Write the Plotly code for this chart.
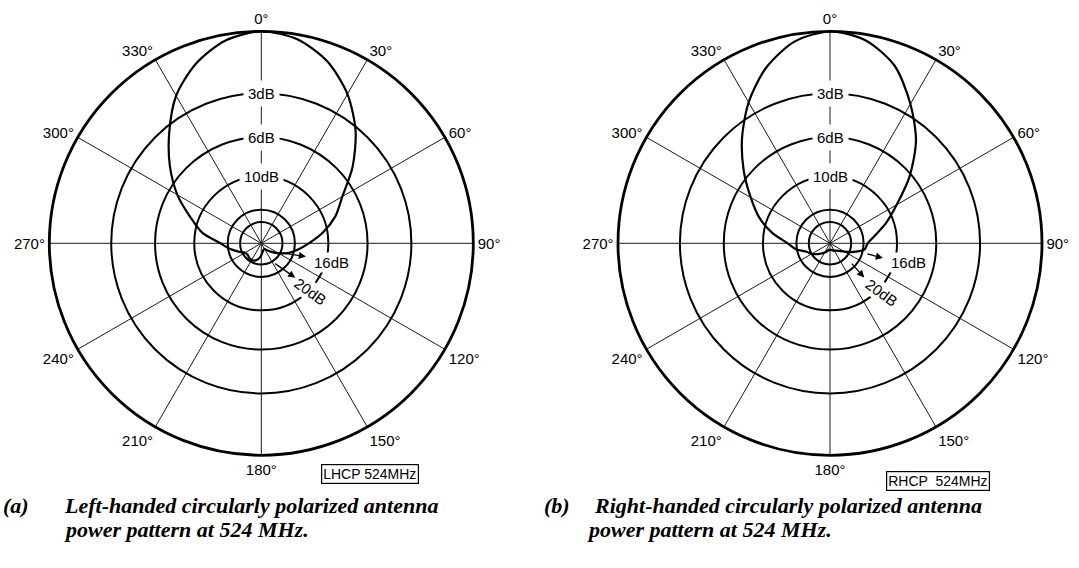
import numpy as np
import plotly.graph_objects as go

W, H = 1079, 568

# ---------------- data ----------------
angles = list(range(0, 360, 10))  # degrees, clockwise from top
# relative power level in dB (0 dB = maximum)
lhcp_db = [0, -0.2, -0.8, -1.8, -3.2, -5.0, -7.1, -8.6, -10.6, -13.0,
           -15.2, -17.5, -20.5, -24.0, -27.5, -30.0, -30.0, -28.0, -25.0, -22.5,
           -21.2, -20.8, -21.0, -21.5, -21.0, -18.8, -16.4, -14.3, -11.0, -9.0,
           -6.8, -5.0, -3.4, -1.9, -0.9, -0.25]
rhcp_db = [0, -0.25, -1.0, -2.4, -4.0, -6.2, -8.8, -11.0, -13.3, -15.0,
           -15.6, -18.5, -22.0, -25.0, -27.0, -28.0, -29.0, -30.0, -30.0, -30.0,
           -28.0, -26.0, -24.0, -22.0, -20.0, -18.6, -15.8, -14.0, -11.2, -9.0,
           -7.3, -5.5, -3.8, -2.3, -1.1, -0.3]
ring_db = [3, 6, 10, 16, 20]
angle_ticks = list(range(0, 360, 30))
box_labels = ["LHCP 524MHz", "RHCP  524MHz"]
caption_tags = ["(a)", "(b)"]
caption_line1 = ["Left-handed circularly polarized antenna",
                 "Right-handed circularly polarized antenna"]
caption_line2 = ["power pattern at 524 MHz.", "power pattern at 524 MHz."]


def amp(db):
    return [10 ** (d / 20.0) for d in db]


ring_r = [10 ** (-d / 20.0) for d in ring_db]

# ---------------- geometry ----------------
panels = [dict(cx=261.3, cy=243.3, R=212.0, key="polar"),
          dict(cx=830.0, cy=243.3, R=212.0, key="polar2")]


def domain(p):
    return dict(x=[(p["cx"] - p["R"]) / W, (p["cx"] + p["R"]) / W],
                y=[(H - (p["cy"] + p["R"])) / H, (H - (p["cy"] - p["R"])) / H])


def to_px(p, rfrac, theta):
    t = np.radians(theta)
    return p["cx"] + p["R"] * rfrac * np.sin(t), p["cy"] - p["R"] * rfrac * np.cos(t)


def to_paper(p, rfrac, theta):
    x, y = to_px(p, rfrac, theta)
    return x / W, 1 - y / H


fig = go.Figure()
for p, db in zip(panels, [lhcp_db, rhcp_db]):
    r = amp(db)
    fig.add_trace(go.Scatterpolar(
        r=r + [r[0]], theta=angles + [angles[0]], mode="lines",
        line=dict(color="black", width=2.2, shape="spline", smoothing=0.8),
        subplot=p["key"], showlegend=False, hoverinfo="skip"))

sans = "Liberation Sans, Arial, sans-serif"
polar_common = dict(
    bgcolor="white",
    radialaxis=dict(range=[0, 1], tickmode="array", tickvals=ring_r,
                    showticklabels=False, ticks="", showline=False,
                    gridcolor="black", gridwidth=1.9),
    angularaxis=dict(direction="clockwise", rotation=90, tickmode="array",
                     tickvals=angle_ticks,
                     ticktext=[f"{a}°" for a in angle_ticks],
                     ticks="", showline=True, linecolor="black", linewidth=2.8,
                     gridcolor="#1a1a1a", gridwidth=0.9,
                     tickfont=dict(family=sans, size=15, color="black")),
)

layout = dict(width=W, height=H, margin=dict(l=0, r=0, t=0, b=0),
              paper_bgcolor="white", plot_bgcolor="white", showlegend=False)
for p in panels:
    layout[p["key"]] = dict(domain=domain(p), **polar_common)
fig.update_layout(**layout)

ann = []
label_font = dict(family=sans, size=15, color="black")
for i, p in enumerate(panels):
    # ring labels on the 0 deg spoke
    for d, rv in zip(ring_db[:3], ring_r[:3]):
        x, y = to_paper(p, rv, 0)
        ann.append(dict(x=x, y=y, xref="paper", yref="paper", text=f"{d}dB",
                        showarrow=False, font=label_font, bgcolor="white",
                        borderpad=4, xanchor="center", yanchor="middle"))
    # 16 dB / 20 dB labels with arrows
    if i == 0:
        a16 = dict(tail=(0.10, 116), head=(0.22, 106.6), lab=(0.345, 105))
        a20 = dict(tail=(0.108, 147.5), head=(0.228, 135.3), lab=(0.325, 134.4))
    else:
        a16 = dict(tail=(0.176, 106), head=(0.259, 105.5), lab=(0.381, 103.5))
        a20 = dict(tail=(0.131, 132.5), head=(0.228, 135), lab=(0.337, 134))
    for a, txt, ang in [(a16, "16dB", 0), (a20, "20dB", 36)]:
        hx, hy = to_px(p, *a["head"])
        tx, ty = to_px(p, *a["tail"])
        ann.append(dict(x=hx / W, y=1 - hy / H, xref="paper", yref="paper",
                        ax=tx - hx, ay=ty - hy, axref="pixel", ayref="pixel",
                        text="", showarrow=True, arrowhead=2, arrowsize=1.1,
                        arrowwidth=1.3, arrowcolor="black", standoff=0))
        lx, ly = to_paper(p, *a["lab"])
        ann.append(dict(x=lx, y=ly, xref="paper", yref="paper", text=txt,
                        showarrow=False, font=label_font, bgcolor="white",
                        borderpad=1, textangle=ang, xanchor="center",
                        yanchor="middle"))

# boxed frequency labels
box_pos = [(370, 474), (938, 481)]
for (bx, by), txt in zip(box_pos, box_labels):
    ann.append(dict(x=bx / W, y=1 - by / H, xref="paper", yref="paper",
                    text=txt, showarrow=False,
                    font=dict(family=sans, size=14, color="black"),
                    bordercolor="black", borderwidth=1.2, borderpad=1,
                    bgcolor="white", xanchor="center", yanchor="middle"))

# captions
serif = "Liberation Serif, Times New Roman, serif"
cap_font = dict(family=serif, size=22, color="black", style="italic", weight="bold")
tag_x = [1, 542]
text_x = [62, 592]
line2_x = [62, 585]
for i in range(2):
    ann.append(dict(x=tag_x[i] / W, y=1 - 505 / H, xref="paper", yref="paper",
                    text=caption_tags[i], showarrow=False, font=cap_font,
                    xanchor="left", yanchor="middle"))
    ann.append(dict(x=text_x[i] / W, y=1 - 505 / H, xref="paper", yref="paper",
                    text=caption_line1[i], showarrow=False, font=cap_font,
                    xanchor="left", yanchor="middle"))
    ann.append(dict(x=line2_x[i] / W, y=1 - 529 / H, xref="paper", yref="paper",
                    text=caption_line2[i], showarrow=False, font=cap_font,
                    xanchor="left", yanchor="middle"))

fig.update_layout(annotations=ann)
fig.write_html("out.html")
